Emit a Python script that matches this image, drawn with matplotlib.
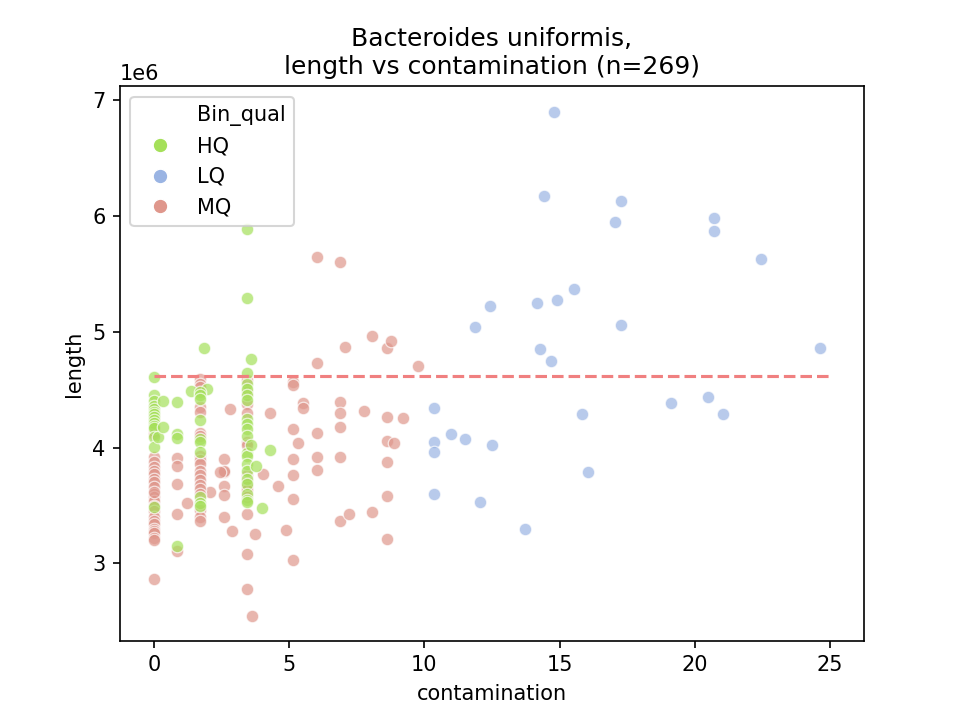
import matplotlib
matplotlib.use("Agg")
import matplotlib.pyplot as plt
from matplotlib.lines import Line2D

# ---- data (length in millions of bp) ----
hq_contam = [0, 0, 0, 0, 0, 0, 0, 0, 0, 0, 0, 0, 0, 0, 0,
             0.16, 0.35, 0.35, 0.86, 0.86, 0.86, 0.86,
             1.37, 1.86, 1.95,
             1.72, 1.72, 1.72, 1.72, 1.72, 1.72, 1.72, 1.72, 1.72, 1.72,
             3.45, 3.45, 3.45, 3.45, 3.45, 3.45, 3.45, 3.45, 3.45, 3.45,
             3.45, 3.45, 3.45, 3.45, 3.45, 3.45, 3.45, 3.45, 3.45, 3.45,
             3.61, 3.61, 3.78, 4.01, 4.30]
hq_length = [4.61, 4.45, 4.40, 4.36, 4.33, 4.31, 4.29, 4.26, 4.24, 4.21, 4.19, 4.17, 4.09, 4.005, 3.49,
             4.09, 4.40, 4.18, 4.39, 4.12, 4.08, 3.15,
             4.49, 4.86, 4.51,
             4.48, 4.45, 4.42, 4.24, 4.07, 4.05, 3.96, 3.57, 3.52, 3.50,
             5.89, 5.29, 4.64, 4.55, 4.51, 4.45, 4.41, 4.25, 4.20, 4.16,
             4.10, 3.95, 3.93, 3.86, 3.80, 3.73, 3.69, 3.60, 3.55, 3.53,
             4.765, 4.02, 3.84, 3.48, 3.98]

mq_contam = [0, 0, 0, 0, 0, 0, 0, 0, 0, 0, 0, 0, 0, 0, 0, 0, 0, 0, 0, 0, 0, 0, 0, 0, 0, 0, 0, 0,
             0.86, 0.86, 0.86, 0.86, 0.86, 1.23, 2.07,
             1.72, 1.72, 1.72, 1.72, 1.72, 1.72, 1.72, 1.72, 1.72, 1.72,
             1.72, 1.72, 1.72, 1.72, 1.72, 1.72, 1.72, 1.72, 1.72,
             2.59, 2.59, 2.59, 2.59, 2.59, 2.59, 2.45, 2.81, 2.88,
             3.45, 3.45, 3.45, 3.45, 3.45, 3.45, 3.45, 3.45, 3.45, 3.45, 3.45, 3.45, 3.45, 3.45,
             3.62, 3.74, 4.02, 4.30, 4.60, 4.88,
             5.16, 5.16, 5.16, 5.16, 5.16, 5.16, 5.16, 5.32, 5.51, 5.51,
             6.03, 6.03, 6.03, 6.03, 6.03,
             6.89, 6.89, 6.89, 6.89, 6.89, 6.89, 7.05, 7.23, 7.77, 8.06, 8.06,
             8.62, 8.62, 8.62, 8.62, 8.62, 8.62, 8.78, 8.86, 9.21, 9.77]
mq_length = [4.35, 4.27, 4.22, 4.14, 4.12, 3.92, 3.875, 3.83, 3.80, 3.775, 3.73, 3.70, 3.66, 3.60,
             3.57, 3.54, 3.50, 3.45, 3.40, 3.37, 3.34, 3.30, 3.28, 3.26, 3.22, 3.20, 2.87, 3.62,
             3.91, 3.84, 3.69, 3.43, 3.11, 3.52, 3.62,
             4.59, 4.55, 4.52, 4.35, 4.31, 4.13, 4.10, 3.93, 3.89, 3.86,
             3.80, 3.76, 3.72, 3.68, 3.645, 3.60, 3.46, 3.40, 3.37,
             3.90, 3.79, 3.80, 3.665, 3.59, 3.40, 3.79, 4.33, 3.28,
             4.58, 4.48, 4.38, 4.30, 4.05, 4.02, 3.76, 3.70, 3.66, 3.63, 3.57, 3.43, 3.08, 2.78,
             2.55, 3.25, 3.775, 4.30, 3.665, 3.29,
             4.57, 4.54, 4.16, 3.90, 3.76, 3.555, 3.03, 4.04, 4.385, 4.34,
             5.646, 4.73, 4.13, 3.92, 3.81,
             5.60, 4.39, 4.30, 4.175, 3.92, 3.37, 4.87, 3.43, 4.32, 4.96, 3.44,
             4.86, 4.26, 4.06, 3.88, 3.585, 3.21, 4.92, 4.04, 4.255, 4.70]

lq_contam = [14.79, 14.43, 17.26, 17.03, 20.72, 20.72, 22.44, 15.53, 12.42, 14.15,
             14.89, 11.88, 17.26, 14.27, 14.68, 24.62, 10.34, 15.84, 19.10, 20.47,
             21.05, 11.00, 11.49, 10.34, 10.34, 12.49, 16.04, 10.34, 12.07, 13.72]
lq_length = [6.90, 6.17, 6.125, 5.95, 5.98, 5.87, 5.63, 5.37, 5.22, 5.25,
             5.27, 5.04, 5.06, 4.85, 4.75, 4.86, 4.34, 4.29, 4.385, 4.44,
             4.29, 4.12, 4.07, 4.05, 3.96, 4.02, 3.79, 3.60, 3.53, 3.30]

median_length = 4.62
line_x = [0, 25]

categories = ["HQ", "LQ", "MQ"]
colors = {"HQ": "#a5e05a", "LQ": "#9ab4e3", "MQ": "#df978c"}

n_total = 269

fig, ax = plt.subplots(figsize=(6.4, 4.8), dpi=150)

groups = {
    "MQ": (mq_contam, mq_length),
    "HQ": (hq_contam, hq_length),
    "LQ": (lq_contam, lq_length),
}
for cat in ["MQ", "HQ", "LQ"]:
    xs, ys = groups[cat]
    ax.scatter(xs, [v * 1e6 for v in ys], s=36, color=colors[cat], alpha=0.7,
               edgecolor="white", linewidth=0.6, zorder=2)

ax.plot(line_x, [median_length * 1e6] * 2, color="#f08080", linestyle="--",
        linewidth=1.5, zorder=3)

handles = [Line2D([], [], linestyle="none", marker="")]
labels = ["Bin_qual"]
for cat in categories:
    handles.append(Line2D([], [], linestyle="none", marker="o", markersize=7,
                          markerfacecolor=colors[cat], markeredgecolor="white",
                          markeredgewidth=0.6))
    labels.append(cat)
ax.legend(handles, labels, loc="upper left")

ax.set_xlabel("contamination")
ax.set_ylabel("length")
ax.set_title(f"Bacteroides uniformis,\nlength vs contamination (n={n_total})")
ax.set_xticks([0, 5, 10, 15, 20, 25])

fig.savefig("out.png", dpi=150)
